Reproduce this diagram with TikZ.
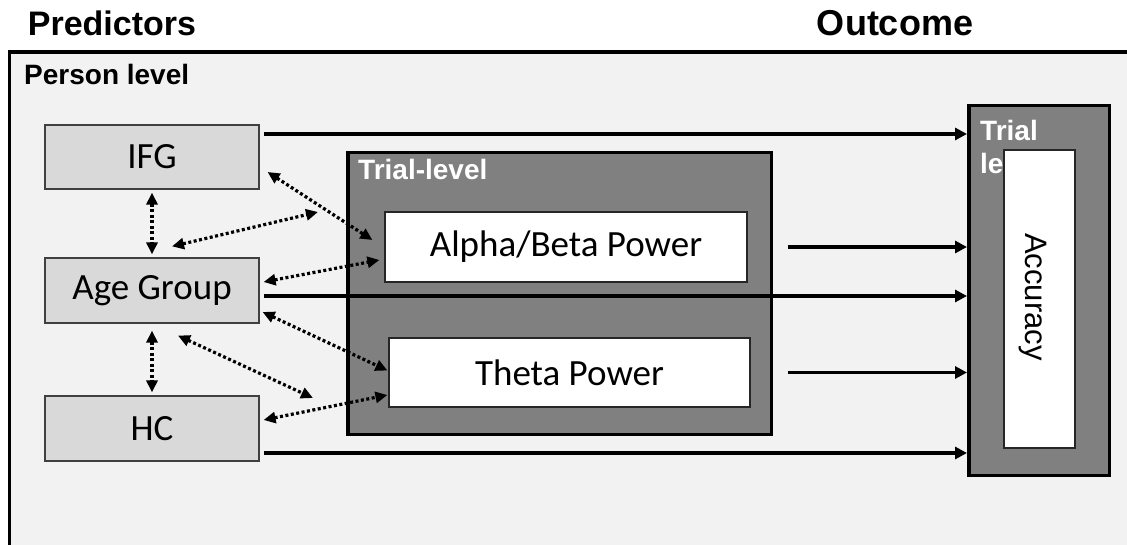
\documentclass[tikz,border=0pt]{standalone}
\usepackage{fontspec}
\setmainfont{Liberation Sans}
\newfontfamily\boxfont{Carlito}
\usetikzlibrary{arrows.meta}

\tikzset{
  predbox/.style={draw=black!75, line width=1.2pt, fill=black!15, minimum width=214pt, minimum height=64pt, font=\boxfont\fontsize{37}{42}\selectfont},
  powerbox/.style={draw=black!85, line width=1.2pt, fill=white, minimum width=362pt, minimum height=70pt, font=\boxfont\fontsize{37}{42}\selectfont},
  levelbox/.style={draw=black, line width=3.5pt, fill=black!50},
  levellabel/.style={font=\bfseries\fontsize{28}{33}\selectfont, text=white, inner sep=0pt},
  flow/.style={line width=3.2pt, -{Triangle[length=12pt,width=12pt]}},
  assoc/.style={line width=3.2pt, dash pattern=on 3pt off 2.5pt, {Triangle[length=12pt,width=11pt]}-{Triangle[length=12pt,width=11pt]}}
}

\begin{document}
\begin{tikzpicture}[x=1pt, y=-1pt]
\useasboundingbox (0,0) rectangle (1127,545);
\clip (0,0) rectangle (1127,545);
\fill[white] (0,0) rectangle (1127,545);
\draw[line width=3.5pt, fill=black!5] (9.5,52) rectangle (1140,560);

\node[font=\bfseries\fontsize{34}{40}\selectfont, anchor=base] (predictors) at (112,36) {Predictors};
\node[font=\bfseries\fontsize{36}{40}\selectfont, anchor=base] (outcome) at (895,36) {Outcome};
\node[font=\bfseries\fontsize{28}{32}\selectfont, anchor=base west, inner sep=0pt] (person) at (24,85) {Person level};

\node[predbox] (ifg) at (152,157) {IFG};
\node[predbox, minimum height=65pt] (age) at (152,290.5) {Age Group};
\node[predbox, minimum height=65pt] (hc) at (152,428.5) {HC};

\node[levelbox, minimum width=423.5pt, minimum height=281.5pt] (trialmid) at (559.5,293.5) {};
\node[levellabel, anchor=base west] (midlabel) at (358,180) {Trial-level};
\node[powerbox] (alpha) at (566,247) {Alpha/Beta Power};
\node[powerbox, minimum width=361pt, minimum height=69pt] (theta) at (569.5,372.5) {Theta Power};

\node[levelbox, minimum width=140.5pt, minimum height=369.5pt] (trialout) at (1039,290.5) {};
\node[levellabel, anchor=north west, align=left] (outlabel) at (980,120) {Trial\\level};
\node[draw=black!85, line width=1.2pt, fill=white, minimum width=71pt, minimum height=298pt] (acc) at (1039.5,299) {};
\node[rotate=-90, font=\fontsize{31}{36}\selectfont] (acctext) at (1033,297) {Accuracy};

\draw[flow] ([shift={(4,-23)}]ifg.east) coordinate (ifgout) -- (ifgout -| trialout.west);
\draw[flow] ([shift={(40,0)}]alpha.east) coordinate (alphaout) -- (alphaout -| trialout.west);
\draw[flow] ([shift={(4,5.5)}]age.east) coordinate (ageout) -- (ageout -| trialout.west);
\draw[flow] ([shift={(37,0)}]theta.east) coordinate (thetaout) -- (thetaout -| trialout.west);
\draw[flow] ([shift={(4,24.5)}]hc.east) coordinate (hcout) -- (hcout -| trialout.west);

\coordinate (ageup) at (318,212);
\coordinate (agedown) at (313,398);
\draw[assoc, shorten <=3pt, shorten >=3pt] (ifg.south) -- (age.north);
\draw[assoc, shorten <=7pt, shorten >=3pt] (age.south) -- (hc.north);
\draw[assoc] ([shift={(8,15)}]ifg.east) -- ([shift={(-12,-7)}]alpha.west);
\draw[assoc] ([shift={(20,-11)}]age.north) -- (ageup);
\draw[assoc] ([shift={(4,-8.5)}]age.east) -- ([shift={(-5,13)}]alpha.west);
\draw[assoc] ([shift={(3,21.5)}]age.east) -- ([shift={(-1,-2)}]theta.west);
\draw[assoc] ([shift={(26,12)}]age.south) -- (agedown);
\draw[assoc] ([shift={(4,-8.5)}]hc.east) -- ([shift={(-1,22.5)}]theta.west);
\end{tikzpicture}
\end{document}
